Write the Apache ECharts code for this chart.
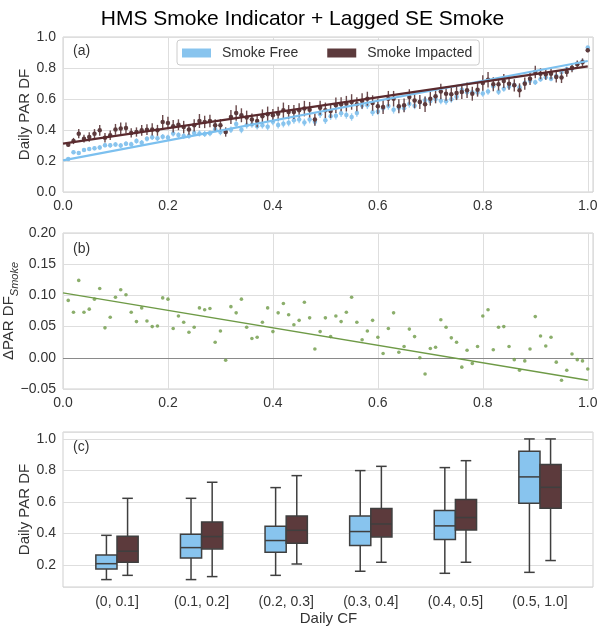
<!DOCTYPE html>
<html><head><meta charset="utf-8">
<script src="https://cdn.jsdelivr.net/npm/echarts@6/dist/echarts.min.js"></script>
<style>html,body{margin:0;padding:0;background:#fff}#c{width:605px;height:634px}</style>
</head><body><div id="c"></div>
<script>
// ---------- DATA ----------
const cf = [0.01,0.02,0.03,0.04,0.05,0.06,0.07,0.08,0.09,0.10,
0.11,0.12,0.13,0.14,0.15,0.16,0.17,0.18,0.19,0.20,
0.21,0.22,0.23,0.24,0.25,0.26,0.27,0.28,0.29,0.30,
0.31,0.32,0.33,0.34,0.35,0.36,0.37,0.38,0.39,0.40,
0.41,0.42,0.43,0.44,0.45,0.46,0.47,0.48,0.49,0.50,
0.51,0.52,0.53,0.54,0.55,0.56,0.57,0.58,0.59,0.60,
0.61,0.62,0.63,0.64,0.65,0.66,0.67,0.68,0.69,0.70,
0.71,0.72,0.73,0.74,0.75,0.76,0.77,0.78,0.79,0.80,
0.81,0.82,0.83,0.84,0.85,0.86,0.87,0.88,0.89,0.90,
0.91,0.92,0.93,0.94,0.95,0.96,0.97,0.98,0.99,1.00];

const impactedMean = [0.305,0.329,0.376,0.344,0.355,0.376,0.398,0.350,0.366,0.404,
0.409,0.413,0.381,0.387,0.398,0.402,0.404,0.398,0.452,0.445,
0.424,0.434,0.419,0.404,0.430,0.458,0.452,0.458,0.430,0.430,
0.387,0.484,0.510,0.495,0.480,0.467,0.458,0.488,0.501,0.495,
0.505,0.527,0.516,0.516,0.527,0.538,0.531,0.467,0.544,0.527,
0.523,0.559,0.566,0.570,0.581,0.566,0.587,0.602,0.574,0.553,
0.548,0.602,0.602,0.553,0.559,0.613,0.591,0.581,0.566,0.602,
0.617,0.649,0.634,0.630,0.639,0.645,0.656,0.634,0.660,0.703,
0.725,0.695,0.695,0.716,0.699,0.688,0.656,0.699,0.731,0.774,
0.763,0.759,0.763,0.742,0.738,0.774,0.802,0.824,0.837,0.914];

const freeMean = [0.213,0.256,0.252,0.271,0.277,0.282,0.287,0.302,0.301,0.307,
0.300,0.312,0.308,0.329,0.318,0.343,0.354,0.347,0.356,0.351,
0.377,0.367,0.362,0.363,0.381,0.378,0.375,0.379,0.405,0.387,
0.391,0.402,0.438,0.401,0.431,0.436,0.425,0.431,0.421,0.453,
0.433,0.440,0.447,0.463,0.467,0.449,0.467,0.453,0.502,0.463,
0.489,0.492,0.508,0.497,0.484,0.509,0.558,0.559,0.514,0.520,
0.541,0.555,0.530,0.544,0.541,0.567,0.557,0.581,0.592,0.587,
0.600,0.588,0.585,0.598,0.614,0.660,0.644,0.643,0.642,0.636,
0.648,0.682,0.646,0.666,0.681,0.691,0.676,0.704,0.717,0.708,
0.728,0.740,0.730,0.749,0.774,0.794,0.796,0.827,0.842,0.932];

const impactedErr = [0.012,0.02,0.03,0.025,0.03,0.03,0.035,0.03,0.03,0.035,
0.04,0.035,0.03,0.03,0.035,0.035,0.04,0.035,0.045,0.04,
0.04,0.035,0.04,0.035,0.04,0.045,0.04,0.04,0.04,0.04,
0.03,0.045,0.05,0.045,0.045,0.04,0.04,0.045,0.05,0.04,
0.045,0.05,0.045,0.045,0.045,0.05,0.05,0.04,0.045,0.05,
0.045,0.05,0.045,0.05,0.05,0.045,0.05,0.045,0.05,0.05,
0.045,0.05,0.05,0.045,0.045,0.05,0.05,0.045,0.05,0.045,
0.045,0.05,0.045,0.045,0.045,0.045,0.05,0.045,0.045,0.05,
0.05,0.045,0.04,0.045,0.04,0.04,0.045,0.04,0.04,0.04,
0.035,0.035,0.035,0.035,0.035,0.03,0.03,0.025,0.025,0.012];

const freeErr = [0.008,0.012,0.012,0.012,0.013,0.013,0.014,0.014,0.015,0.015,
0.016,0.016,0.016,0.017,0.017,0.017,0.018,0.018,0.018,0.018,
0.019,0.019,0.019,0.02,0.02,0.02,0.02,0.02,0.02,0.021,
0.021,0.021,0.022,0.022,0.022,0.022,0.022,0.022,0.023,0.023,
0.023,0.023,0.023,0.023,0.024,0.024,0.024,0.024,0.024,0.024,
0.024,0.024,0.024,0.024,0.024,0.024,0.024,0.024,0.024,0.024,
0.024,0.024,0.024,0.024,0.024,0.023,0.023,0.023,0.023,0.023,
0.023,0.022,0.022,0.022,0.022,0.022,0.021,0.021,0.021,0.021,
0.02,0.02,0.02,0.02,0.019,0.019,0.019,0.018,0.018,0.018,
0.017,0.017,0.016,0.016,0.015,0.014,0.013,0.012,0.011,0.01];

const deltaSmoke = [0.092,0.073,0.124,0.073,0.078,0.094,0.111,0.048,0.065,0.097,
0.109,0.101,0.073,0.058,0.080,0.059,0.050,0.051,0.096,0.094,
0.047,0.067,0.057,0.041,0.049,0.080,0.077,0.079,0.025,0.043,
-0.004,0.082,0.072,0.094,0.049,0.031,0.033,0.057,0.080,0.042,
0.072,0.087,0.069,0.053,0.060,0.089,0.064,0.014,0.042,0.064,
0.034,0.067,0.058,0.073,0.097,0.057,0.029,0.043,0.060,0.033,
0.007,0.047,0.072,0.009,0.018,0.046,0.034,0.000,-0.026,0.015,
0.017,0.061,0.049,0.032,0.025,-0.015,0.012,-0.009,0.018,0.067,
0.077,0.013,0.049,0.050,0.018,-0.003,-0.020,-0.005,0.014,0.066,
0.035,0.019,0.033,-0.007,-0.036,-0.020,0.006,-0.003,-0.005,-0.018];

const fitX = [0.0, 1.0];
const freeFitY = [0.204, 0.845];
const impactedFitY = [0.312, 0.810];
const deltaFitY = [0.104, -0.036];

const cfBins = ['(0, 0.1]','(0.1, 0.2]','(0.2, 0.3]','(0.3, 0.4]','(0.4, 0.5]','(0.5, 1.0]'];
// [min, Q1, median, Q3, max]
const freeBox = [
  [0.107,0.175,0.208,0.263,0.388],
  [0.107,0.244,0.310,0.395,0.623],
  [0.134,0.280,0.355,0.446,0.691],
  [0.160,0.323,0.412,0.511,0.799],
  [0.147,0.361,0.448,0.545,0.818],
  [0.153,0.592,0.759,0.922,1.000]];
const impactedBox = [
  [0.134,0.217,0.287,0.382,0.623],
  [0.126,0.302,0.380,0.473,0.725],
  [0.206,0.338,0.420,0.511,0.767],
  [0.217,0.378,0.460,0.558,0.826],
  [0.217,0.422,0.501,0.615,0.862],
  [0.228,0.560,0.693,0.837,1.000]];

// ---------- STYLE ----------
const FONT = 'Liberation Sans, Arial, sans-serif';
const BLUE = '#88c4ee', BLUE_LINE = '#7cc0ef', BLUE_ERR = '#9ccff2';
const BROWN = '#5c3a3c', BROWN_LINE = '#5a2a2e', BROWN_ERR = '#6a4a4c';
const GREEN = '#6e9a46';
const GRIDC = '#dedede', FRAMEC = '#cfcfcf', TXT = '#333';

const zip2 = (xs, ys) => xs.map((x, i) => [x, ys[i]]);
const errData = (xs, m, e) => xs.map((x, i) => [x, m[i] - e[i], m[i] + e[i]]);

function errRender(color) {
  return function (params, api) {
    const p1 = api.coord([api.value(0), api.value(1)]);
    const p2 = api.coord([api.value(0), api.value(2)]);
    return { type: 'line', shape: { x1: p1[0], y1: p1[1], x2: p2[0], y2: p2[1] },
      style: { stroke: color, lineWidth: 1.4 } };
  };
}
function boxRender(side, fill) {
  return function (params, api) {
    const i = api.value(0);
    const band = api.size([1, 0])[0];
    const w = band * 0.25;
    const cx = api.coord([i, 0])[0];
    const x0 = side < 0 ? cx - w : cx;
    const xc = x0 + w / 2;
    const y = k => api.coord([i, api.value(k)])[1];
    const yMin = y(1), yQ1 = y(2), yMed = y(3), yQ3 = y(4), yMax = y(5);
    const ls = { stroke: '#3f3f3f', lineWidth: 1.5 };
    return { type: 'group', children: [
      { type: 'line', shape: { x1: xc, y1: yMax, x2: xc, y2: yQ3 }, style: ls },
      { type: 'line', shape: { x1: xc, y1: yQ1, x2: xc, y2: yMin }, style: ls },
      { type: 'line', shape: { x1: xc - w / 4, y1: yMax, x2: xc + w / 4, y2: yMax }, style: ls },
      { type: 'line', shape: { x1: xc - w / 4, y1: yMin, x2: xc + w / 4, y2: yMin }, style: ls },
      { type: 'rect', shape: { x: x0, y: yQ3, width: w, height: yQ1 - yQ3 },
        style: { fill: fill, stroke: '#3f3f3f', lineWidth: 1.5 } },
      { type: 'line', shape: { x1: x0, y1: yMed, x2: x0 + w, y2: yMed }, style: ls }
    ]};
  };
}

const dec1on02 = v => (Math.abs(v * 5 - Math.round(v * 5)) < 1e-6 ? v.toFixed(1) : '');
const lbl = { fontSize: 14, color: TXT, fontFamily: FONT };
const split = { show: true, lineStyle: { color: GRIDC, width: 1 } };
const G = { outerBoundsMode: 'none', containLabel: false };

const chart = echarts.init(document.getElementById('c'), null, { renderer: 'canvas' });
chart.setOption({
  animation: false,
  backgroundColor: '#fff',
  textStyle: { fontFamily: FONT },
  title: { text: 'HMS Smoke Indicator + Lagged SE Smoke', left: 'center', top: 4,
    textStyle: { fontSize: 21, fontWeight: 'normal', color: '#000', fontFamily: FONT } },
  legend: {
    left: 177, top: 40, orient: 'horizontal',
    itemWidth: 29, itemHeight: 9, itemGap: 29,
    padding: [6, 7, 5, 5],
    backgroundColor: '#fff', borderColor: '#cccccc', borderWidth: 1, borderRadius: 3,
    textStyle: { fontSize: 14, color: TXT, fontFamily: FONT, padding: [0, 0, 0, 6] },
    data: [
      { name: 'Smoke Free', icon: 'rect', itemStyle: { color: BLUE, borderWidth: 0 } },
      { name: 'Smoke Impacted', icon: 'rect', itemStyle: { color: BROWN, borderWidth: 0 } }
    ]
  },
  grid: [
    Object.assign({ left: 63, top: 37, width: 530, height: 155, show: true, borderColor: FRAMEC, borderWidth: 1 }, G),
    Object.assign({ left: 63, top: 233, width: 530, height: 156, show: true, borderColor: FRAMEC, borderWidth: 1 }, G),
    Object.assign({ left: 63, top: 432, width: 530, height: 155, show: true, borderColor: FRAMEC, borderWidth: 1 }, G),
    Object.assign({ left: 74.7, top: 432, width: 507.6, height: 155, show: false }, G)
  ],
  xAxis: [
    { gridIndex: 0, type: 'value', min: 0, max: 1.01, interval: 0.2,
      axisLine: { show: false }, axisTick: { show: false }, splitLine: split,
      axisLabel: Object.assign({ margin: 7, formatter: dec1on02 }, lbl) },
    { gridIndex: 1, type: 'value', min: 0, max: 1.01, interval: 0.2,
      axisLine: { show: false }, axisTick: { show: false }, splitLine: split,
      axisLabel: Object.assign({ margin: 7, formatter: dec1on02 }, lbl) },
    { gridIndex: 2, type: 'value', min: 0, max: 1, show: false, splitLine: { show: false } },
    { gridIndex: 3, type: 'category', data: cfBins,
      axisLine: { show: false }, axisTick: { show: false }, splitLine: { show: false },
      axisLabel: Object.assign({ margin: 8, interval: 0 }, lbl),
      name: 'Daily CF', nameLocation: 'middle', nameGap: 24, nameMoveOverlap: false,
      nameTextStyle: { fontSize: 15, color: TXT, fontFamily: FONT } }
  ],
  yAxis: [
    { gridIndex: 0, type: 'value', min: 0, max: 1, interval: 0.2,
      axisLine: { show: false }, axisTick: { show: false }, splitLine: split,
      axisLabel: Object.assign({ margin: 7, formatter: v => v.toFixed(1) }, lbl),
      name: 'Daily PAR DF', nameLocation: 'middle', nameGap: 31, nameMoveOverlap: false,
      nameTextStyle: { fontSize: 15, color: TXT, fontFamily: FONT } },
    { gridIndex: 1, type: 'value', min: -0.05, max: 0.2, interval: 0.05,
      axisLine: { show: false }, axisTick: { show: false }, splitLine: split,
      axisLabel: Object.assign({ margin: 7, formatter: v => { const s = Math.abs(v).toFixed(2); return v < -1e-9 ? '\u2212' + s : s; } }, lbl),
      name: '{m|\u0394PAR DF}{s|Smoke}', nameLocation: 'middle', nameGap: 43, nameMoveOverlap: false,
      nameTextStyle: { color: TXT, fontFamily: FONT, rich: {
        m: { fontSize: 15, color: TXT, fontFamily: FONT, lineHeight: 22, verticalAlign: 'middle' },
        s: { fontSize: 11, color: TXT, fontFamily: FONT, fontStyle: 'italic', lineHeight: 22, verticalAlign: 'bottom' } } } },
    { gridIndex: 2, type: 'value', min: 0.06, max: 1.044, splitNumber: 5,
      axisLine: { show: false }, axisTick: { show: false }, splitLine: split,
      axisLabel: Object.assign({ margin: 7, formatter: dec1on02 }, lbl),
      name: 'Daily PAR DF', nameLocation: 'middle', nameGap: 31, nameMoveOverlap: false,
      nameTextStyle: { fontSize: 15, color: TXT, fontFamily: FONT } },
    { gridIndex: 3, type: 'value', min: 0.06, max: 1.044, show: false, splitLine: { show: false } }
  ],
  graphic: [
    { type: 'text', left: 73, top: 44, style: { text: '(a)', fontSize: 14, fill: TXT, fontFamily: FONT } },
    { type: 'text', left: 73, top: 242, style: { text: '(b)', fontSize: 14, fill: TXT, fontFamily: FONT } },
    { type: 'text', left: 73, top: 440, style: { text: '(c)', fontSize: 14, fill: TXT, fontFamily: FONT } }
  ],
  series: [
    { name: 'freeErr', type: 'custom', xAxisIndex: 0, yAxisIndex: 0, renderItem: errRender(BLUE_ERR),
      data: errData(cf, freeMean, freeErr), encode: { x: 0, y: [1, 2] }, silent: true, z: 2 },
    { name: 'Smoke Free', type: 'scatter', xAxisIndex: 0, yAxisIndex: 0, symbolSize: 4.5,
      itemStyle: { color: BLUE, opacity: 1 }, data: zip2(cf, freeMean), z: 3 },
    { name: 'impErr', type: 'custom', xAxisIndex: 0, yAxisIndex: 0, renderItem: errRender(BROWN_ERR),
      data: errData(cf, impactedMean, impactedErr), encode: { x: 0, y: [1, 2] }, silent: true, z: 4 },
    { name: 'Smoke Impacted', type: 'scatter', xAxisIndex: 0, yAxisIndex: 0, symbolSize: 4.5,
      itemStyle: { color: BROWN, opacity: 1 }, data: zip2(cf, impactedMean), z: 5 },
    { name: 'freeFit', type: 'line', xAxisIndex: 0, yAxisIndex: 0, symbol: 'none',
      lineStyle: { color: BLUE_LINE, width: 2.2 }, data: zip2(fitX, freeFitY), z: 6 },
    { name: 'impFit', type: 'line', xAxisIndex: 0, yAxisIndex: 0, symbol: 'none',
      lineStyle: { color: BROWN_LINE, width: 2.2 }, data: zip2(fitX, impactedFitY), z: 7 },
    { name: 'delta', type: 'scatter', xAxisIndex: 1, yAxisIndex: 1, symbolSize: 3.6,
      itemStyle: { color: GREEN }, data: zip2(cf, deltaSmoke), z: 5 },
    { name: 'deltaFit', type: 'line', xAxisIndex: 1, yAxisIndex: 1, symbol: 'none',
      lineStyle: { color: GREEN, width: 1.3 }, data: zip2(fitX, deltaFitY), z: 6,
      markLine: { silent: true, symbol: 'none', label: { show: false },
        lineStyle: { color: '#8a8a8a', width: 1, type: 'solid' }, data: [{ yAxis: 0 }] } },
    { name: 'freeBox', type: 'custom', xAxisIndex: 3, yAxisIndex: 3, renderItem: boxRender(-1, BLUE),
      data: freeBox.map((b, i) => [i].concat(b)), encode: { x: 0, y: [1, 2, 3, 4, 5] }, z: 5 },
    { name: 'impBox', type: 'custom', xAxisIndex: 3, yAxisIndex: 3, renderItem: boxRender(1, BROWN),
      data: impactedBox.map((b, i) => [i].concat(b)), encode: { x: 0, y: [1, 2, 3, 4, 5] }, z: 5 }
  ]
});
</script></body></html>
